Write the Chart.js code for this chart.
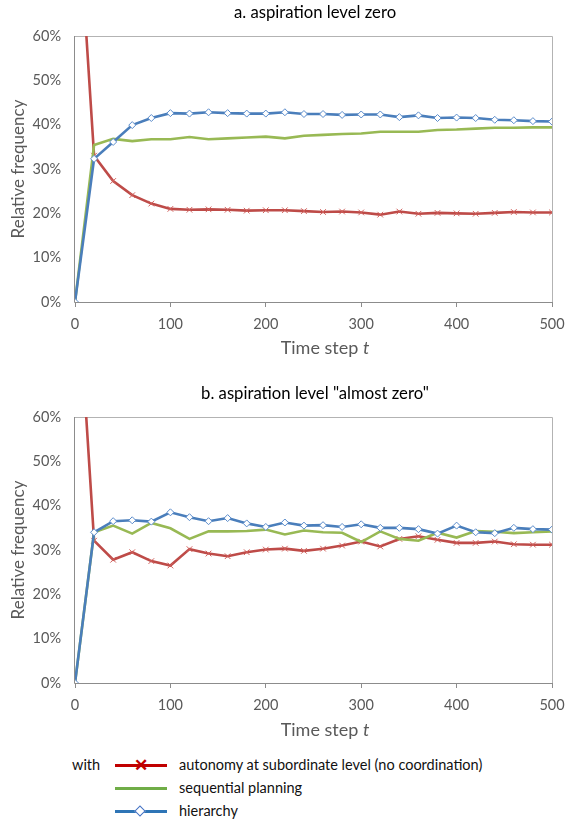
<!DOCTYPE html>
<html>
<head>
<meta charset="utf-8">
<script src="https://cdn.jsdelivr.net/npm/chart.js@4"></script>
<style>
  html, body { margin: 0; padding: 0; background: #fff; }
  body { width: 566px; height: 823px; position: relative; overflow: hidden; font-family: Lato, "Open Sans", sans-serif; }
  .cw { position: absolute; left: 0; width: 566px; height: 370px; }
  .ct { position: absolute; left: 0; width: 630px; text-align: center; font-size: 16.7px; color: #000; white-space: nowrap; }
  .xt { position: absolute; font-size: 18px; color: #595959; white-space: nowrap; left: 0; width: 650px; text-align: center; }
  .leg { position: absolute; font-size: 14.5px; color: #111; white-space: nowrap; }
  .ll { position: absolute; height: 3px; width: 52px; left: 115px; }
</style>
</head>
<body>
<div class="cw" style="top:0"><canvas id="c1" width="566" height="370"></canvas></div>
<div class="cw" style="top:381px"><canvas id="c2" width="566" height="370"></canvas></div>
<div class="ct" id="t1" style="top:2px"></div>
<div class="ct" id="t2" style="top:383px"></div>
<div class="xt" style="top:336px">Time step <i>t</i></div>
<div class="xt" style="top:718px">Time step <i>t</i></div>

<div class="leg" style="left:72px; top:756px">with</div>
<div class="ll" style="top:764px; background:#C00000"></div>
<div class="leg" style="left:134px; top:754px; color:#C00000; font-size:17px; font-weight:bold">✕</div>
<div class="leg" style="left:179px; top:756px">autonomy at subordinate level (no coordination)</div>
<div class="ll" style="top:787px; background:#70AD47"></div>
<div class="leg" style="left:179px; top:779px">sequential planning</div>
<div class="ll" style="top:810px; background:#2E75B6"></div>
<div style="position:absolute; left:136px; top:807px; width:6px; height:6px; background:#fff; border:1.5px solid #4472C4; transform:rotate(45deg)"></div>
<div class="leg" style="left:179px; top:802px">hierarchy</div>

<script>
// time steps (x values)
const steps = [0,20,40,60,80,100,120,140,160,180,200,220,240,260,280,300,320,340,360,380,400,420,440,460,480,500];

// a. aspiration level zero (relative frequency, %)
const aAutonomy   = [100,33.0,27.3,24.1,22.2,21.0,20.8,20.9,20.8,20.6,20.7,20.7,20.5,20.3,20.4,20.2,19.7,20.4,19.9,20.1,20.0,19.9,20.1,20.3,20.2,20.2];
const aSequential = [0,35.4,36.8,36.3,36.7,36.7,37.2,36.7,36.9,37.1,37.3,36.9,37.5,37.7,37.9,38.0,38.4,38.4,38.4,38.8,38.9,39.1,39.3,39.3,39.4,39.4];
const aHierarchy  = [0,32.3,36.1,39.9,41.5,42.6,42.5,42.8,42.6,42.5,42.5,42.8,42.4,42.4,42.2,42.3,42.3,41.7,42.1,41.5,41.6,41.5,41.1,41.0,40.8,40.7];

// b. aspiration level "almost zero" (relative frequency, %)
const bAutonomy   = [100,32.1,27.8,29.5,27.5,26.5,30.2,29.2,28.6,29.5,30.1,30.3,29.8,30.3,31.0,31.9,30.8,32.5,33.1,32.3,31.6,31.6,31.9,31.3,31.2,31.2];
const bSequential = [0,34.0,35.5,33.7,36.1,34.9,32.5,34.2,34.2,34.3,34.6,33.5,34.4,34.0,33.9,31.8,34.2,32.5,32.1,33.9,32.8,34.3,34.1,33.8,34.0,34.2];
const bHierarchy  = [0,34.0,36.5,36.7,36.4,38.5,37.4,36.5,37.2,36.0,35.2,36.2,35.5,35.6,35.2,35.8,35.0,35.0,34.7,33.7,35.5,34.0,33.8,35.0,34.7,34.6];

const seriesNames = ['autonomy at subordinate level (no coordination)', 'sequential planning', 'hierarchy'];
const titles = ['a. aspiration level zero', 'b. aspiration level "almost zero"'];
const yTicks = [0,10,20,30,40,50,60];
const xTicks = [0,100,200,300,400,500];

document.getElementById('t1').textContent = titles[0];
document.getElementById('t2').textContent = titles[1];

const FONT = 'Lato';
const pts = (vals) => steps.map((t, i) => ({x: t, y: vals[i]}));

const frame = {
  id: 'frame',
  beforeDatasetsDraw(chart) {
    const {ctx, chartArea: a} = chart;
    ctx.save();
    ctx.lineWidth = 1;
    ctx.strokeStyle = '#B3B3B3';
    ctx.beginPath();
    ctx.moveTo(a.left, a.top + 0.5); ctx.lineTo(a.right + 0.5, a.top + 0.5); ctx.lineTo(a.right + 0.5, a.bottom);
    ctx.stroke();
    ctx.strokeStyle = '#8C8C8C';
    ctx.beginPath();
    ctx.moveTo(a.left - 0.5, a.top); ctx.lineTo(a.left - 0.5, a.bottom + 0.5); ctx.lineTo(a.right + 0.5, a.bottom + 0.5);
    ctx.stroke();
    ctx.restore();
  }
};

function zeroPad(s) { s.paddingLeft = 0; s.paddingRight = 0; s.paddingTop = 0; s.paddingBottom = 0; }

function makeChart(id, auto, seq, hier) {
  return new Chart(document.getElementById(id), {
    type: 'line',
    data: {
      datasets: [
        { label: seriesNames[0], data: pts(auto), borderColor: '#BE4B48', borderWidth: 2.6,
          pointStyle: 'crossRot', pointRadius: 4, pointBorderWidth: 1, pointBorderColor: '#D0605C',
          pointBackgroundColor: 'transparent', tension: 0, order: 2 },
        { label: seriesNames[1], data: pts(seq), borderColor: '#98B954', borderWidth: 2.6,
          pointRadius: 0, tension: 0, order: 1 },
        { label: seriesNames[2], data: pts(hier), borderColor: '#4A7EBB', borderWidth: 2.6,
          pointStyle: 'rectRot', pointRadius: 3.5, pointBorderWidth: 1, pointBorderColor: '#5B8CCB',
          pointBackgroundColor: '#ffffff', tension: 0, order: 0 }
      ]
    },
    options: {
      responsive: false,
      devicePixelRatio: 1,
      animation: false,
      events: [],
      layout: { padding: { left: 0, right: 14, top: 36, bottom: 0 } },
      plugins: {
        legend: { display: false },
        tooltip: { enabled: false },
        title: { display: false }
      },
      scales: {
        x: {
          type: 'linear', min: 0, max: 500,
          afterFit(s) { s.height = 68; zeroPad(s); },
          afterBuildTicks(s) { s.ticks = xTicks.map(v => ({value: v})); },
          border: { display: false },
          grid: { display: true, drawOnChartArea: false, drawTicks: true, tickLength: 5, color: '#8C8C8C' },
          ticks: { color: '#595959', font: { family: FONT, size: 14.5 }, padding: 9, maxRotation: 0 }
        },
        y: {
          min: 0, max: 60,
          afterFit(s) { s.width = 75; zeroPad(s); },
          afterBuildTicks(s) { s.ticks = yTicks.map(v => ({value: v})); },
          border: { display: false },
          grid: { display: false, drawTicks: false },
          ticks: { color: '#595959', font: { family: FONT, size: 14.5 }, padding: 14, callback: v => v + '%' },
          title: { display: true, text: 'Relative frequency', color: '#595959',
                   font: { family: FONT, size: 17 }, padding: { top: 8, bottom: 0 } }
        }
      }
    },
    plugins: [frame]
  });
}

makeChart('c1', aAutonomy, aSequential, aHierarchy);
makeChart('c2', bAutonomy, bSequential, bHierarchy);
</script>
</body>
</html>
